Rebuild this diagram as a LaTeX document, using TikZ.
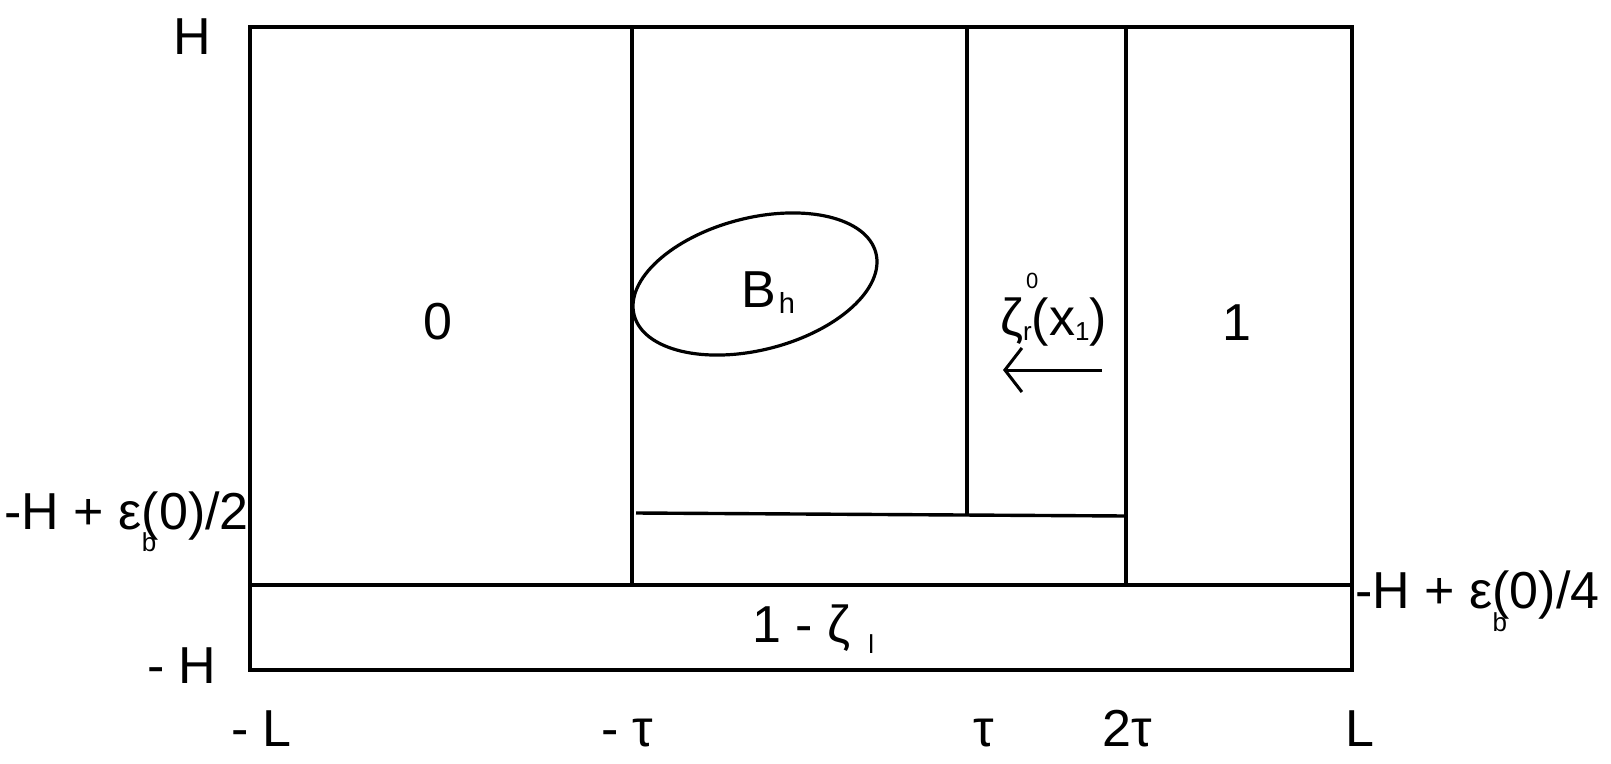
\documentclass[tikz,border=0pt]{standalone}
\usepackage{fontspec}
\setmainfont{Liberation Sans}
\usetikzlibrary{arrows.meta,shapes.geometric}
\newcommand{\subf}{\fontsize{26}{26}\selectfont}
\begin{document}
\begin{tikzpicture}[x=1pt,y=-1pt,
  lbl/.style={inner sep=0pt, font=\fontsize{52}{52}\selectfont},
  outer/.style={line width=4.2pt, line cap=rect},
  inner/.style={line width=3.4pt},
  oval/.style={draw, ellipse, line width=3.2pt, inner sep=0pt}]
\useasboundingbox (0,0) rectangle (1611,763);
% corners and line ends
\coordinate (tl) at (250,27);
\coordinate (tr) at (1352,27);
\coordinate (br) at (1352,670);
\coordinate (bl) at (250,670);
\coordinate (hl) at (250,585);
\coordinate (hr) at (1352,585);
\coordinate (mt) at (632,27);
\coordinate (mb) at (632,585);
\coordinate (tt) at (967,27);
\coordinate (tb) at (967,514.5);
\coordinate (ttt) at (1126,27);
\coordinate (ttb) at (1126,585);
\coordinate (sl) at (636,513);
\coordinate (sr) at (1126,516);
\coordinate (as) at (1102,370);
\coordinate (ae) at (1003,370);
% frame
\draw[outer] (tl) -- (tr) -- (br) -- (bl) -- cycle;
\draw[inner] (hl) -- (hr);
\draw[inner] (mt) -- (mb);
\draw[inner] (tt) -- (tb);
\draw[inner] (ttt) -- (ttb);
\draw[inner] (sl) -- (sr);
% ellipse
\node[oval, minimum width=249.6pt, minimum height=132pt, rotate=14.4] (bh) at (755,284) {};
\node[lbl, anchor=base west] (bhl) at (741,307) {B\kern3pt\raisebox{-6pt}{\fontsize{29}{29}\selectfont h}};
% arrow
\draw[line width=3pt, -{Straight Barb[length=17pt,width=44pt,line width=3pt]}] (as) -- (ae);
% labels
\node[lbl, anchor=base west] (lH) at (173,54) {H};
\node[lbl, anchor=base west] (lmH) at (147,683) {- H};
\node[lbl, anchor=base east] (lh2) at (249,529) {-H + ε\rlap{\raisebox{-22pt}{\subf b}}(0)/2};
\node[lbl, anchor=base west] (lh4) at (1355,608) {-H + ε\rlap{\raisebox{-23pt}{\subf b}}(0)/4};
\node[lbl, anchor=base] (l0) at (438,339) {0};
\node[lbl, anchor=base] (l1) at (1237,340) {1};
\node[lbl, anchor=base west] (lz) at (1000,335) {ζ\rlap{\kern3pt\raisebox{47pt}{\fontsize{22}{22}\selectfont 0}}\raisebox{-5pt}{\subf r}(x\raisebox{-5pt}{\subf 1})};
\node[lbl, anchor=base west] (lzl) at (752,642) {1 - ζ\kern18pt\raisebox{-11pt}{\subf l}};
\node[lbl, anchor=base west] (xmL) at (231,746) {- L};
\node[lbl, anchor=base west] (xmt) at (601,746) {- τ};
\node[lbl, anchor=base west] (xt) at (973,746) {τ};
\node[lbl, anchor=base west] (x2t) at (1102,746) {2τ};
\node[lbl, anchor=base west] (xL) at (1345,746) {L};
\end{tikzpicture}
\end{document}
